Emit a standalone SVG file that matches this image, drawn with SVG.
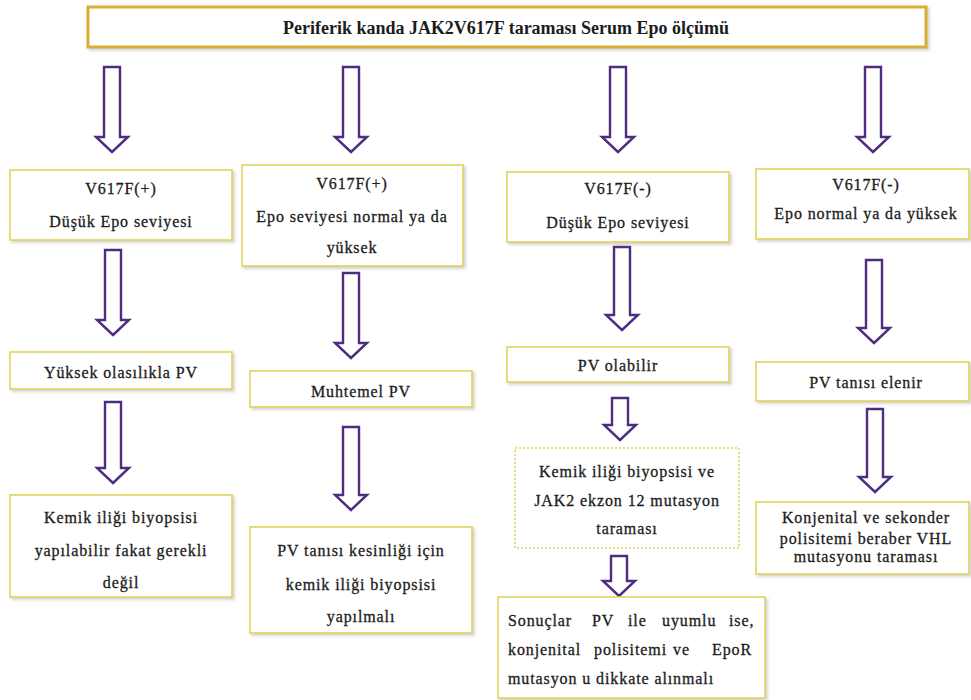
<svg xmlns="http://www.w3.org/2000/svg" width="971" height="700" viewBox="0 0 971 700">
<defs>
<filter id="sh" x="-5%" y="-10%" width="115%" height="130%">
<feDropShadow dx="2" dy="2" stdDeviation="1.5" flood-color="#999" flood-opacity="0.45"/>
</filter>
<style>
.box{fill:#fff;stroke:#E2D35C;stroke-width:1.6;filter:url(#sh)}
.dot{fill:#fff;stroke:#E2D35C;stroke-width:1.6;stroke-dasharray:2 2}
.top{fill:#fff;stroke:#D9AE33;stroke-width:3;filter:url(#sh)}
.arr{fill:#fff;stroke:#4E2C80;stroke-width:2.4;stroke-linejoin:miter}
text{font-family:"Liberation Serif","Times New Roman",serif;fill:#1c1c1c}
.t{font-size:16px;letter-spacing:0.9px;text-anchor:middle;stroke:#1c1c1c;stroke-width:0.3}
.tl{font-size:16px;letter-spacing:0.9px;stroke:#1c1c1c;stroke-width:0.3}
.h{font-size:18px;font-weight:bold;text-anchor:middle}
</style>
</defs>
<rect width="971" height="700" fill="#fff"/>

<g id="connectors">
<path class="arr" d="M104 67H120V137H128L112 152L96 137H104Z"/>
<path class="arr" d="M343 67H359V137H367L351 152L335 137H343Z"/>
<path class="arr" d="M610 67H626V137H634L618 152L602 137H610Z"/>
<path class="arr" d="M865 67H881V137H889L873 152L857 137H865Z"/>

<path class="arr" d="M105 250H121V320H129L113 335L97 320H105Z"/>
<path class="arr" d="M343 273H359V343H367L351 358L335 343H343Z"/>
<path class="arr" d="M614 247H630V315H638L622 330L606 315H614Z"/>
<path class="arr" d="M866 260H882V328H890L874 343L858 328H866Z"/>

<path class="arr" d="M105 402H121V468H129L113 483L97 468H105Z"/>
<path class="arr" d="M343 427H359V495H367L351 510L335 495H343Z"/>
<path class="arr" d="M612 398H628V425H636L620 440L604 425H612Z"/>
<path class="arr" d="M867 409H883V477H891L875 492L859 477H867Z"/>

<path class="arr" d="M611 556H627V581H635L619 596L603 581H611Z"/>
</g>

<g id="n-top">
<rect class="top" x="88" y="7" width="838" height="40"/>
<text class="h" x="506" y="34" textLength="446" lengthAdjust="spacingAndGlyphs">Periferik kanda JAK2V617F taraması Serum Epo ölçümü</text>
</g>

<g id="n-a1">
<rect class="box" x="10" y="170" width="222" height="70"/>
<text class="t" x="121" y="194">V617F(+)</text>
<text class="t" x="121" y="227">Düşük Epo seviyesi</text>
</g>
<g id="n-b1">
<rect class="box" x="242" y="165" width="221" height="101"/>
<text class="t" x="352" y="189">V617F(+)</text>
<text class="t" x="352" y="222">Epo seviyesi normal ya da</text>
<text class="t" x="352" y="253">yüksek</text>
</g>
<g id="n-c1">
<rect class="box" x="507" y="172" width="222" height="70"/>
<text class="t" x="618" y="194">V617F(-)</text>
<text class="t" x="618" y="228">Düşük Epo seviyesi</text>
</g>
<g id="n-d1">
<rect class="box" x="756" y="169" width="213" height="70"/>
<text class="t" x="866" y="190">V617F(-)</text>
<text class="t" x="866" y="219">Epo  normal ya da yüksek</text>
</g>

<g id="n-a2">
<rect class="box" x="10" y="352" width="222" height="37"/>
<text class="t" x="121" y="378">Yüksek olasılıkla PV</text>
</g>
<g id="n-b2">
<rect class="box" x="250" y="371" width="222" height="36"/>
<text class="t" x="361" y="397">Muhtemel PV</text>
</g>
<g id="n-c2">
<rect class="box" x="507" y="347" width="222" height="35"/>
<text class="t" x="618" y="371">PV olabilir</text>
</g>
<g id="n-d2">
<rect class="box" x="756" y="362" width="213" height="39"/>
<text class="t" x="866" y="388">PV tanısı elenir</text>
</g>

<g id="n-a3">
<rect class="box" x="10" y="495" width="222" height="102"/>
<text class="t" x="121" y="523">Kemik iliği biyopsisi</text>
<text class="t" x="121" y="556">yapılabilir fakat gerekli</text>
<text class="t" x="121" y="588">değil</text>
</g>
<g id="n-b3">
<rect class="box" x="250" y="527" width="222" height="106"/>
<text class="t" x="361" y="556">PV tanısı kesinliği için</text>
<text class="t" x="361" y="590">kemik iliği biyopsisi</text>
<text class="t" x="361" y="622">yapılmalı</text>
</g>
<g id="n-c3">
<rect class="dot" x="515" y="448" width="224" height="100"/>
<text class="t" x="627" y="477">Kemik iliği biyopsisi ve</text>
<text class="t" x="627" y="506">JAK2 ekzon 12 mutasyon</text>
<text class="t" x="627" y="534">taraması</text>
</g>
<g id="n-d3">
<rect class="box" x="756" y="502" width="213" height="72"/>
<text class="t" x="866" y="523">Konjenital ve sekonder</text>
<text class="t" x="866" y="544">polisitemi  beraber VHL</text>
<text class="t" x="866" y="562">mutasyonu taraması</text>
</g>

<g id="n-c4">
<rect class="box" x="498" y="597" width="267" height="101"/>
<text class="tl" y="626"><tspan x="508">Sonuçlar</tspan><tspan x="592">PV</tspan><tspan x="628">ile</tspan><tspan x="662">uyumlu</tspan><tspan x="729">ise,</tspan></text>
<text class="tl" y="655"><tspan x="508">konjenital</tspan><tspan x="594">polisitemi</tspan><tspan x="673">ve</tspan><tspan x="712">EpoR</tspan></text>
<text class="tl" x="508" y="684">mutasyon u dikkate alınmalı</text>
</g>
</svg>
